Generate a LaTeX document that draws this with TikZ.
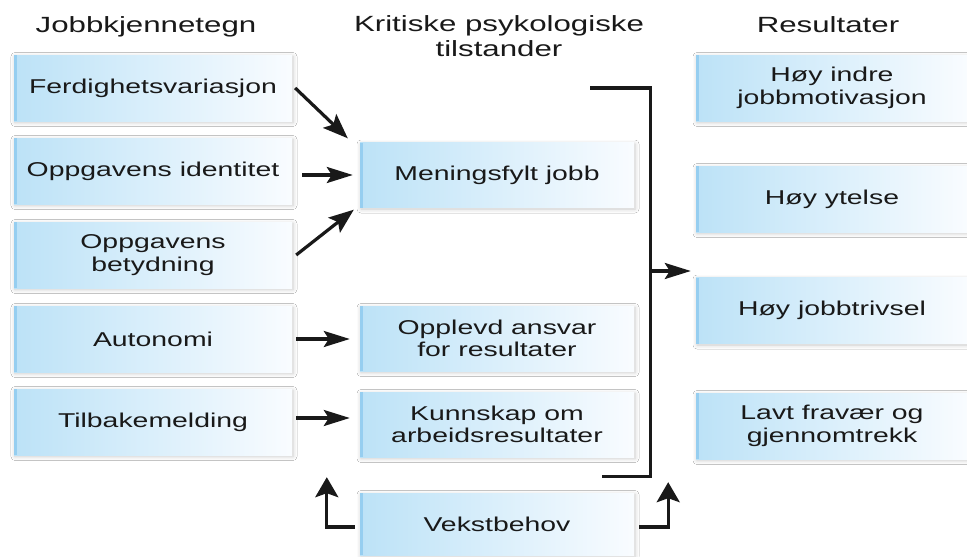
\documentclass[tikz,border=0pt]{standalone}
\usepackage{fontspec}
\setmainfont{Liberation Sans}[FakeStretch=1.42]
\usetikzlibrary{arrows.meta,shadows.blur}
\definecolor{boxL}{RGB}{188,226,247}
\definecolor{boxR}{RGB}{249,252,255}
\definecolor{stripc}{RGB}{150,206,240}
\definecolor{ink}{RGB}{25,25,25}
\begin{document}
\begin{tikzpicture}[x=1pt,y=-1pt,
  box/.style={draw=none, left color=boxL, right color=boxR, inner sep=0pt,
    align=center, text=ink, font=\fontsize{20}{22.5}\selectfont,
    blur shadow={shadow xshift=1pt, shadow yshift=-1.5pt, shadow blur radius=4pt, shadow opacity=22},
    path picture={\fill[stripc] (path picture bounding box.north west) rectangle ([xshift=3pt]path picture bounding box.south west);}},
  lbox/.style={box, minimum width=278pt, minimum height=66pt},
  mbox/.style={box, minimum width=274pt, minimum height=65pt},
  rbox/.style={box, minimum width=272pt, minimum height=66pt},
  head/.style={inner sep=0pt, align=center, text=ink, font=\fontsize{22}{25}\selectfont},
  ln/.style={line width=3.2pt, draw=ink},
  arrH/.style={ln, -{Stealth[length=26pt,width=16pt,inset=5pt]}},
  arrV/.style={ln, -{Stealth[length=20pt,width=23pt,inset=4pt]}},
  arrD/.style={ln, -{Stealth[length=25pt,width=19pt,inset=5pt]}},
  brk/.style={ln, line join=miter}
]
\useasboundingbox[fill=white] (0,0) rectangle (967,557);

% headings
\node[head, anchor=base] (H1) at (146,32) {Jobbkjennetegn};
\node[head, anchor=north] (H2) at (499,15) {Kritiske psykologiske\\tilstander};
\node[head, anchor=base] (H3) at (828,32) {Resultater};

% left column
\node[lbox] (L1) at (153,88) {Ferdighetsvariasjon};
\node[lbox] (L2) at (153,171) {Oppgavens identitet};
\node[lbox] (L3) at (153,255) {Oppgavens\\betydning};
\node[lbox] (L4) at (153,339) {Autonomi};
\node[lbox] (L5) at (153,422) {Tilbakemelding};

% middle column
\node[mbox] (M1) at (497,175) {Meningsfylt jobb};
\node[mbox] (M2) at (497,338.5) {Opplevd ansvar\\for resultater};
\node[mbox] (M3) at (497,424.5) {Kunnskap om\\arbeidsresultater};
\node[mbox, minimum height=62pt] (V) at (497,524) {Vekstbehov};

% right column
\node[rbox] (R1) at (832,88) {Høy indre\\jobbmotivasjon};
\node[rbox] (R2) at (832,199) {Høy ytelse};
\node[rbox] (R3) at (832,310.5) {Høy jobbtrivsel};
\node[rbox] (R4) at (832,426) {Lavt fravær og\\gjennomtrekk};

% arrows left -> middle
\draw[arrD] ([xshift=3pt]L1.east) -- ([xshift=-12pt,yshift=4pt]M1.north west);
\draw[arrH] ([xshift=10pt]L2.east |- M1.west) -- ([xshift=-7pt]M1.west);
\draw[arrD] ([xshift=4pt]L3.east) -- ([xshift=-6pt,yshift=-2pt]M1.south west);
\draw[arrH] ([xshift=4pt]L4.east) -- ([xshift=-10pt]M2.west |- L4.east);
\coordinate (a5) at ([xshift=4pt,yshift=4pt]L5.east);
\draw[arrH] (a5) -- ([xshift=-10pt]M3.west |- a5);

% bracket
\coordinate (btop) at ([xshift=16pt]M1.east |- L1.east);
\coordinate (bbot) at ([xshift=16pt,yshift=-19pt]M3.south east);
\coordinate (bmid) at (btop |- 0,271);
\draw[brk] ([xshift=-60pt]btop) -- (btop) -- (bbot) -- ([xshift=-48pt]bbot);
\draw[arrH] (bmid) -- ([xshift=-5pt]R3.west |- bmid);

% Vekstbehov arrows
\draw[arrV] ([xshift=-5pt,yshift=-3pt]V.west) -| ([xshift=-33pt,yshift=-20pt]M3.south west);
\draw[arrV] ([xshift=5pt,yshift=-3pt]V.east) -| ([xshift=34pt,yshift=-25pt]M3.south east);
\end{tikzpicture}
\end{document}
